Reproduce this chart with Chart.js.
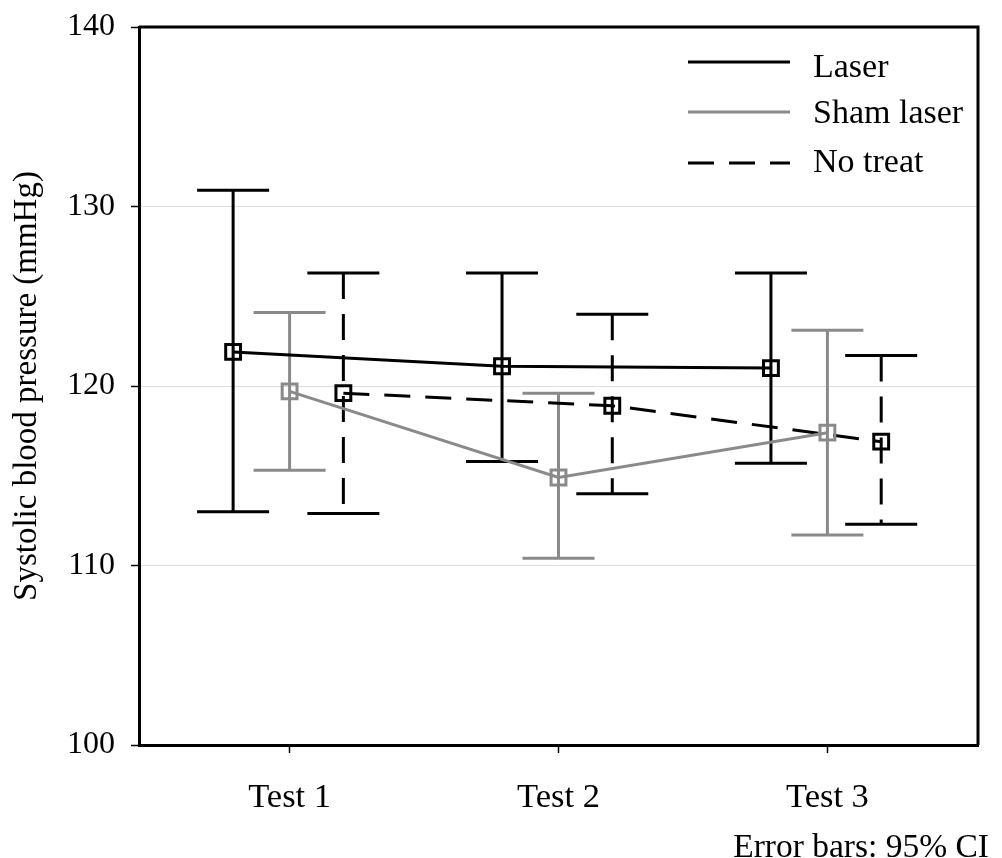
<!DOCTYPE html>
<html lang="en">
<head>
<meta charset="UTF-8">
<title>Systolic blood pressure</title>
<script src="https://cdn.jsdelivr.net/npm/chart.js"></script>
<style>
  html, body { margin: 0; padding: 0; background: #fff; }
  canvas { display: block; }
</style>
</head>
<body>
<canvas id="bp" width="1002" height="858"></canvas>
<script>
const categories = ['Test 1', 'Test 2', 'Test 3'];
const yTicks = [100, 110, 120, 130, 140];

// group means with 95% CI limits
const laserMean = [121.9, 121.1, 121.0];
const laserLow = [113.0, 115.8, 115.7];
const laserHigh = [130.9, 126.3, 126.3];

const shamMean = [119.7, 114.9, 117.4];
const shamLow = [115.3, 110.4, 111.7];
const shamHigh = [124.1, 119.6, 123.1];

const noTreatMean = [119.6, 118.9, 116.9];
const noTreatLow = [112.9, 114.0, 112.3];
const noTreatHigh = [126.3, 124.0, 121.7];

const SERIF = "'Liberation Serif', 'Times New Roman', serif";
const GREY = '#8a8a8a';
const DASH = [26, 15];

// groups sit side by side around each test
function points(means, shift) {
    return means.map((v, i) => ({ x: i + 1 + shift, y: v }));
}

function series(label, means, low, high, shift, color, dash) {
    return {
        label: label,
        data: points(means, shift),
        ciLow: low,
        ciHigh: high,
        borderColor: color,
        borderWidth: 3,
        borderDash: dash,
        pointStyle: 'rect',
        pointRadius: 10.5,
        pointHoverRadius: 10.5,
        pointBorderWidth: 3,
        pointBorderColor: color,
        pointBackgroundColor: 'rgba(0,0,0,0)',
        tension: 0
    };
}

const errorBars = {
    id: 'errorBars',
    beforeDatasetsDraw(chart) {
        const { ctx, scales: { x, y } } = chart;
        chart.data.datasets.forEach(ds => {
            ds.data.forEach((p, i) => {
                const px = x.getPixelForValue(p.x);
                const top = y.getPixelForValue(ds.ciHigh[i]);
                const bot = y.getPixelForValue(ds.ciLow[i]);
                ctx.save();
                ctx.strokeStyle = ds.borderColor;
                ctx.lineWidth = 3;
                ctx.setLineDash(ds.borderDash);
                ctx.beginPath();
                ctx.moveTo(px, top);
                ctx.lineTo(px, bot);
                ctx.stroke();
                ctx.setLineDash([]);
                ctx.beginPath();
                ctx.moveTo(px - 36, top); ctx.lineTo(px + 36, top);
                ctx.moveTo(px - 36, bot); ctx.lineTo(px + 36, bot);
                ctx.stroke();
                ctx.restore();
            });
        });
    }
};

// top/right frame, legend box and the CI note
const decorations = {
    id: 'decorations',
    afterDraw(chart) {
        const { ctx, chartArea: a } = chart;
        ctx.save();
        ctx.strokeStyle = '#000';
        ctx.lineWidth = 3;
        ctx.beginPath();
        ctx.moveTo(a.left, a.top);
        ctx.lineTo(a.right, a.top);
        ctx.lineTo(a.right, a.bottom);
        ctx.stroke();

        const lineY = [62, 112, 163];
        const textY = [77, 123, 172];
        ctx.font = '34px ' + SERIF;
        ctx.textBaseline = 'alphabetic';
        ctx.textAlign = 'left';
        chart.data.datasets.forEach((ds, i) => {
            ctx.strokeStyle = ds.borderColor;
            ctx.setLineDash(ds.borderDash);
            ctx.beginPath();
            ctx.moveTo(688, lineY[i]);
            ctx.lineTo(790, lineY[i]);
            ctx.stroke();
            ctx.fillStyle = '#000';
            ctx.fillText(ds.label, 813, textY[i]);
        });

        ctx.font = '33.5px ' + SERIF;
        ctx.textAlign = 'right';
        ctx.fillText('Error bars: 95% CI', 989, 857);
        ctx.restore();
    }
};

new Chart(document.getElementById('bp'), {
    type: 'line',
    data: {
        datasets: [
            series('Laser', laserMean, laserLow, laserHigh, -0.21, '#000', []),
            series('Sham laser', shamMean, shamLow, shamHigh, 0, GREY, []),
            series('No treat', noTreatMean, noTreatLow, noTreatHigh, 0.2, '#000', DASH)
        ]
    },
    options: {
        responsive: false,
        animation: false,
        layout: { padding: { top: 27, right: 24, left: 0, bottom: 0 } },
        plugins: {
            legend: { display: false },
            tooltip: { enabled: false }
        },
        scales: {
            x: {
                type: 'linear',
                min: 0.44,
                max: 3.56,
                afterBuildTicks: s => { s.ticks = categories.map((c, i) => ({ value: i + 1 })); },
                afterFit: s => { s.height = 113; s.paddingLeft = 0; s.paddingRight = 0; },
                ticks: {
                    color: '#000',
                    font: { family: SERIF, size: 34.5 },
                    padding: 24,
                    maxRotation: 0,
                    callback: v => categories[v - 1]
                },
                grid: { drawOnChartArea: false, tickColor: '#000', tickLength: 8, tickWidth: 1.5 },
                border: { color: '#000', width: 3 }
            },
            y: {
                min: 100,
                max: 140,
                afterBuildTicks: s => { s.ticks = yTicks.map(v => ({ value: v })); },
                afterFit: s => { s.width = 139; s.paddingTop = 0; s.paddingBottom = 0; },
                ticks: {
                    color: '#000',
                    font: { family: SERIF, size: 32 },
                    padding: 16
                },
                grid: {
                    color: c => (c.tick && (c.tick.value === 100 || c.tick.value === 140)) ? 'rgba(0,0,0,0)' : '#dedede',
                    lineWidth: 1,
                    tickColor: '#000',
                    tickLength: 8,
                    tickWidth: 1.5
                },
                border: { color: '#000', width: 3 },
                title: {
                    display: true,
                    text: 'Systolic blood pressure (mmHg)',
                    color: '#000',
                    font: { family: SERIF, size: 33 },
                    padding: { top: 8, bottom: 4 }
                }
            }
        }
    },
    plugins: [errorBars, decorations]
});
</script>
</body>
</html>
